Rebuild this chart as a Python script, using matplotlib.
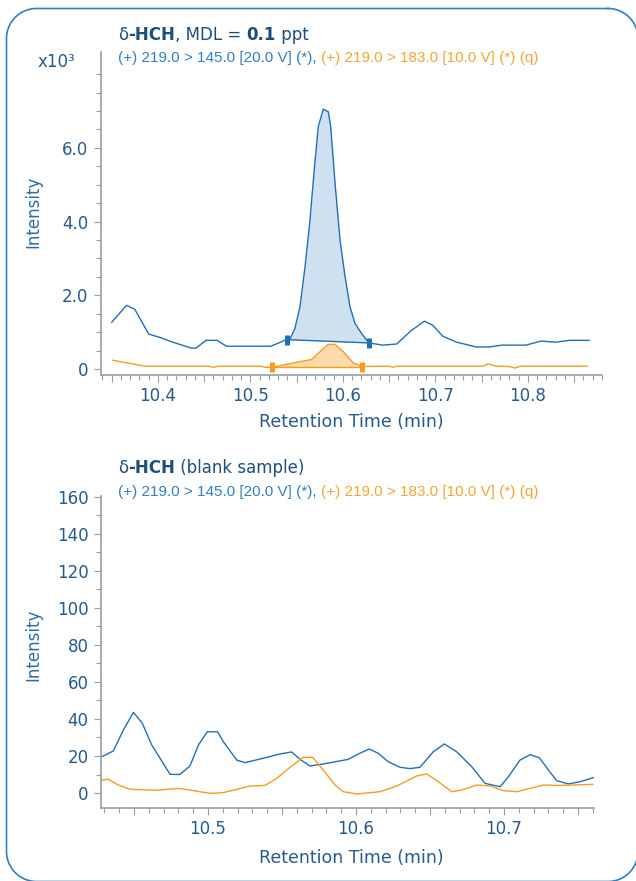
import numpy as np
import matplotlib
matplotlib.use("Agg")
import matplotlib.pyplot as plt
from matplotlib.ticker import MultipleLocator, FuncFormatter

# ---- data (intensity of the upper panel in units of 10^3) ----
top_t_quant = [10.350, 10.366, 10.375, 10.390, 10.402, 10.416, 10.436, 10.441, 10.452, 10.464,
               10.474, 10.522, 10.539, 10.543, 10.548, 10.5535, 10.559, 10.564, 10.5686, 10.5733,
               10.5787, 10.5841, 10.5867, 10.5914, 10.5968, 10.6022, 10.6076, 10.613, 10.620, 10.628,
               10.643, 10.658, 10.674, 10.688, 10.697, 10.708, 10.723, 10.744, 10.758, 10.772,
               10.798, 10.814, 10.830, 10.845, 10.866]
top_i_quant = [1.27, 1.73, 1.62, 0.95, 0.86, 0.73, 0.57, 0.57, 0.78, 0.78,
               0.62, 0.62, 0.80, 0.83, 1.10, 1.69, 2.78, 3.95, 5.31, 6.58,
               7.05, 6.98, 6.58, 5.04, 3.50, 2.51, 1.69, 1.24, 0.97, 0.71,
               0.65, 0.68, 1.05, 1.30, 1.19, 0.89, 0.73, 0.60, 0.60, 0.65,
               0.65, 0.76, 0.73, 0.78, 0.78]
top_t_qual = [10.351, 10.386, 10.455, 10.460, 10.465, 10.510, 10.516, 10.5236, 10.5427, 10.5661,
              10.5751, 10.5841, 10.5914, 10.6004, 10.6112, 10.6209, 10.650, 10.654, 10.658, 10.751,
              10.757, 10.766, 10.780, 10.786, 10.792, 10.864]
top_i_qual = [0.24, 0.08, 0.08, 0.05, 0.08, 0.08, 0.05, 0.05, 0.15, 0.26,
              0.47, 0.67, 0.67, 0.47, 0.17, 0.07, 0.08, 0.05, 0.08, 0.08,
              0.14, 0.08, 0.07, 0.03, 0.08, 0.08]
quant_limits = [10.539, 10.628]
quant_base = [0.80, 0.71]
qual_limits = [10.5236, 10.6209]
qual_base = [0.06, 0.06]

bot_t_quant = [10.4282, 10.436, 10.4428, 10.4496, 10.4556, 10.462, 10.4676, 10.4743, 10.481, 10.4878,
               10.4935, 10.4995, 10.5065, 10.5104, 10.5194, 10.525, 10.5374, 10.5486, 10.5565, 10.5622,
               10.5689, 10.5779, 10.5948, 10.6016, 10.609, 10.6151, 10.6218, 10.6297, 10.6365, 10.6432,
               10.6522, 10.6597, 10.668, 10.6782, 10.6872, 10.6973, 10.703, 10.7108, 10.7176, 10.7239,
               10.730, 10.7356, 10.7435, 10.7514, 10.7604]
bot_i_quant = [19.6, 22.7, 34.0, 43.6, 37.7, 25.9, 18.8, 10.1, 10.0, 14.6,
               25.9, 33.1, 33.1, 27.7, 17.8, 16.4, 18.8, 21.1, 22.2, 18.2,
               14.6, 15.7, 18.2, 21.1, 23.8, 21.4, 16.9, 13.9, 13.2, 13.9,
               22.3, 26.5, 22.3, 14.2, 5.2, 3.4, 8.8, 17.8, 20.7, 19.1,
               12.4, 6.7, 4.9, 6.1, 8.3]
bot_t_qual = [10.4282, 10.4326, 10.4394, 10.4473, 10.4653, 10.480, 10.4878, 10.5014, 10.5104, 10.5284,
              10.5385, 10.5464, 10.5554, 10.5644, 10.5707, 10.5779, 10.5858, 10.5914, 10.6005, 10.6162,
              10.6275, 10.641, 10.6478, 10.6556, 10.6647, 10.6714, 10.6816, 10.6905, 10.6995, 10.7086,
              10.7176, 10.7266, 10.7356, 10.7468, 10.760]
bot_i_qual = [7.0, 7.4, 4.3, 2.0, 1.5, 2.5, 1.6, -0.2, 0.2, 3.8,
              4.1, 7.9, 13.9, 19.3, 19.3, 12.4, 4.3, 0.7, -0.5, 0.7,
              3.8, 9.2, 10.3, 6.1, 0.7, 1.6, 4.3, 3.8, 1.3, 0.7,
              2.5, 4.3, 4.1, 4.3, 4.7]

sub_quant = "(+) 219.0 > 145.0 [20.0 V] (*), "
sub_qual = "(+) 219.0 > 183.0 [10.0 V] (*) (q)"

# ---- style ----
BLUE = "#1f70b6"
ORANGE = "#f59c1f"
BLUE_FILL = "#cfe1f1"
ORANGE_FILL = "#fbdba9"
NAVY = "#1d4f7e"
TICKC = "#245b8f"
SPINE = "#939ea8"
SUB_BLUE = "#2f80c3"
SUB_ORANGE = "#f5a533"

plt.rcParams["font.family"] = ["DejaVu Sans"]

W, H = 636, 881
fig = plt.figure(figsize=(W / 100, H / 100), dpi=100)

# background axes in pixel units (y down) for the rounded frame
bg = fig.add_axes([0, 0, 1, 1])
bg.set_xlim(0, W)
bg.set_ylim(H, 0)
bg.axis("off")
fl, ft, fr, fb, rad = 6.5, 8.5, 638, 881.5, 30
corners = [(fr - rad, ft + rad, -90, 0), (fr - rad, fb - rad, 0, 90),
           (fl + rad, fb - rad, 90, 180), (fl + rad, ft + rad, 180, 270)]
fx, fy = [], []
for cx, cy, a0, a1 in corners:
    a = np.radians(np.linspace(a0, a1, 30))
    fx.extend(cx + rad * np.cos(a))
    fy.extend(cy + rad * np.sin(a))
fx.append(fx[0])
fy.append(fy[0])
bg.plot(fx, fy, color="#2f7fc1", lw=1.2, clip_on=False)


def box(l, t, r, b):
    return [l / W, 1 - b / H, (r - l) / W, (b - t) / H]


def style_axes(ax):
    for s in ["top", "right"]:
        ax.spines[s].set_visible(False)
    for s in ["left", "bottom"]:
        ax.spines[s].set_color(SPINE)
        ax.spines[s].set_linewidth(1.2)
    ax.patch.set_alpha(0)
    ax.tick_params(which="both", colors=SPINE, labelcolor=TICKC, width=0.8, labelsize=12)
    ax.tick_params(which="major", length=5, pad=4)
    ax.tick_params(which="minor", length=3.5)
    ax.xaxis.set_major_locator(MultipleLocator(0.05))
    ax.xaxis.set_minor_locator(MultipleLocator(0.01))
    ax.xaxis.set_major_formatter(FuncFormatter(
        lambda v, p: "%.1f" % v if abs(v * 10 - round(v * 10)) < 1e-6 else ""))


# ---- upper panel ----
ax1 = fig.add_axes(box(101, 52, 602, 375))
style_axes(ax1)
ax1.plot(top_t_quant, top_i_quant, color=BLUE, lw=1.0)
ax1.plot(top_t_qual, top_i_qual, color=ORANGE, lw=1.0)

for t, i, lim, base, lc, fc in [(top_t_quant, top_i_quant, quant_limits, quant_base, BLUE, BLUE_FILL),
                                (top_t_qual, top_i_qual, qual_limits, qual_base, ORANGE, ORANGE_FILL)]:
    t = np.array(t)
    i = np.array(i)
    seg = np.concatenate([[lim[0]], t[(t > lim[0]) & (t < lim[1])], [lim[1]]])
    cur = np.interp(seg, t, i)
    bl = np.interp(seg, lim, base)
    ax1.fill_between(seg, cur, bl, color=fc, lw=0, zorder=1)
    ax1.plot(lim, base, color=lc, lw=1.0)
    ax1.plot(lim, base, ls="none", marker="|", ms=7.5, mew=3.6, color=lc)

ax1.set_xlim(10.3384, 10.88)
ax1.set_ylim(-0.16, 8.6)
ax1.set_yticks([0, 2, 4, 6])
ax1.yaxis.set_major_formatter(FuncFormatter(lambda v, p: "0" if v == 0 else "%.1f" % v))
ax1.set_yticks(np.arange(0, 8.01, 0.5), minor=True)

# ---- lower panel ----
ax2 = fig.add_axes(box(101, 496, 594, 808))
style_axes(ax2)
ax2.plot(bot_t_quant, bot_i_quant, color=BLUE, lw=1.0)
ax2.plot(bot_t_qual, bot_i_qual, color=ORANGE, lw=1.0)
ax2.set_xlim(10.4277, 10.7608)
ax2.set_ylim(-8.1, 160.5)
ax2.yaxis.set_major_locator(MultipleLocator(20))
ax2.yaxis.set_minor_locator(MultipleLocator(10))

# ---- texts ----
renderer = fig.canvas.get_renderer()


def advance(s, props):
    t = fig.text(0, 0, s + "|", **props)
    w1 = t.get_window_extent(renderer).width
    t.set_text("|")
    w2 = t.get_window_extent(renderer).width
    t.remove()
    return w1 - w2


def rich(x, y, pieces):
    for s, props in pieces:
        fig.text(x / W, 1 - y / H, s, ha="left", va="baseline", **props)
        x += advance(s, props)


tn = dict(fontsize=12, color=NAVY)
tb = dict(fontsize=12, color=NAVY, fontweight="bold")
sb = dict(fontsize=11, color=SUB_BLUE, family="Liberation Sans")
so = dict(fontsize=11, color=SUB_ORANGE, family="Liberation Sans")

rich(118, 40, [("δ", tn), ("-HCH", tb), (", MDL = ", tn), ("0.1", tb), (" ppt", tn)])
rich(118, 62, [(sub_quant, sb), (sub_qual, so)])
rich(118, 473, [("δ", tn), ("-HCH", tb), (" (blank sample)", tn)])
rich(118, 496, [(sub_quant, sb), (sub_qual, so)])

fig.text(75 / W, 1 - 67 / H, "x10³", ha="right", va="baseline", fontsize=12, color=TICKC)

for yc in [212, 645]:
    fig.text(33 / W, 1 - yc / H, "Intensity", rotation=90, ha="center", va="center",
             fontsize=12, color="#2c6ca5")
for yc in [422, 858]:
    fig.text(351 / W, 1 - yc / H, "Retention Time (min)", ha="center", va="center",
             fontsize=12.5, color=TICKC)

fig.savefig("out.png", dpi=100)
